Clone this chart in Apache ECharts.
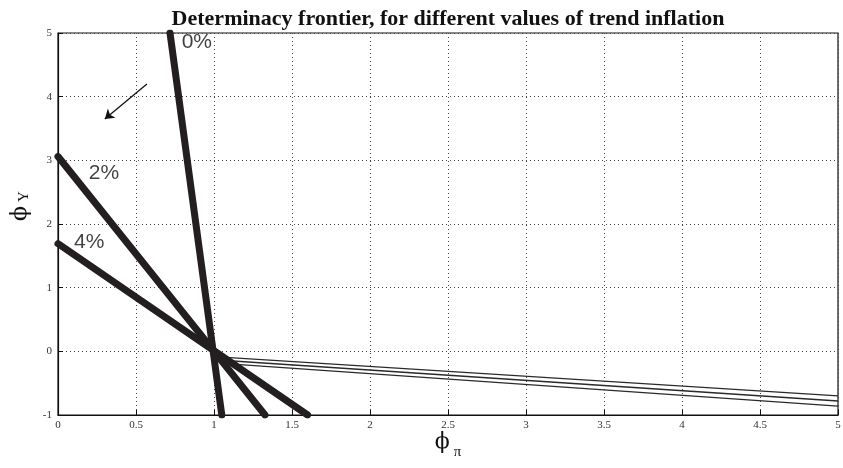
<!DOCTYPE html>
<html>
<head>
<meta charset="utf-8">
<script src="https://cdn.jsdelivr.net/npm/echarts@6/dist/echarts.min.js"></script>
<style>html,body{margin:0;padding:0;background:#fff}#c{width:843px;height:468px}</style>
</head>
<body>
<div id="c"></div>
<script>
// Thick determinacy frontiers (phi_pi, phi_Y)
const line0 = [[0.718, 5], [1.05, -1]];
const line2 = [[0, 3.06], [1.327, -1]];
const line4 = [[0, 1.69], [1.60, -1]];
// Thin lines
const thinA = [[1.05, -0.09], [5, -0.70]];
const thinB = [[1.05, -0.14], [5, -0.78]];
const thinC = [[1.05, -0.19], [5, -0.86]];
// Text annotations
const labels = [
  {name: '0%', value: [0.89, 4.86]},
  {name: '2%', value: [0.295, 2.80]},
  {name: '4%', value: [0.20, 1.72]}
];
// Arrow
const arrow = [[0.57, 4.2], [0.30, 3.65]];

const chart = echarts.init(document.getElementById('c'));
const serif = 'Liberation Serif';
const thick = {color: '#231f20', width: 7, cap: 'round'};
const thin = {color: '#2a2a2a', width: 1.3};
function ln(data, style) {
  return {type: 'line', data: data, symbol: 'none', lineStyle: style, silent: true, z: 3, animation: false};
}
chart.setOption({
  animation: false,
  title: {
    text: 'Determinacy frontier, for different values of trend inflation',
    left: 443, top: 3, textAlign: 'center',
    textStyle: {fontFamily: serif, fontWeight: 'bold', fontSize: 22, color: '#111'}
  },
  grid: {left: 58, right: 5, top: 33, bottom: 53, show: true, borderColor: '#111', borderWidth: 1.2,
    containLabel: false, outerBoundsMode: 'none'},
  xAxis: {
    type: 'value', min: 0, max: 5, interval: 0.5,
    axisLine: {onZero: false, lineStyle: {color: '#111', width: 1.2}},
    axisTick: {inside: true, length: 5, lineStyle: {color: '#111'}},
    axisLabel: {fontFamily: serif, fontSize: 11, color: '#333', margin: 5},
    splitLine: {show: true, lineStyle: {type: [1, 3], color: '#444', width: 1}},
    name: '{a|ϕ}{b|π}', nameLocation: 'middle', nameGap: 10, nameMoveOverlap: false,
    nameTextStyle: {rich: {
      a: {fontFamily: 'DejaVu Serif', fontSize: 22, color: '#111'},
      b: {fontFamily: serif, fontSize: 15, color: '#111', padding: [20, 0, 0, 4]}
    }}
  },
  yAxis: {
    type: 'value', min: -1, max: 5, interval: 1,
    axisLine: {onZero: false, lineStyle: {color: '#111', width: 1.2}},
    axisTick: {inside: true, length: 5, lineStyle: {color: '#111'}},
    axisLabel: {fontFamily: serif, fontSize: 11, color: '#333', margin: 6},
    splitLine: {show: true, lineStyle: {type: [1, 3], color: '#444', width: 1}},
    name: '{a|ϕ}{b|Y}', nameLocation: 'middle', nameGap: 24, nameRotate: 90,
    nameTextStyle: {padding: [0, 0, 0, 36], rich: {
      a: {fontFamily: 'DejaVu Serif', fontSize: 22, color: '#111'},
      b: {fontFamily: serif, fontSize: 15, color: '#111', padding: [8, 0, 0, 4]}
    }}
  },
  series: [
    ln(thinA, thin), ln(thinB, thin), ln(thinC, thin),
    ln(line0, thick), ln(line2, thick), ln(line4, thick),
    {
      type: 'scatter', data: labels, symbolSize: 0, silent: true, z: 5,
      label: {show: true, position: 'inside', formatter: '{b}',
        fontFamily: 'Liberation Sans', fontSize: 21, color: '#111'}
    },
    {
      type: 'lines', coordinateSystem: 'cartesian2d', silent: true, z: 5,
      symbol: ['none', 'arrow'], symbolSize: 9,
      lineStyle: {color: '#111', width: 1.3, opacity: 1, curveness: 0},
      data: [{coords: arrow}]
    }
  ]
});
</script>
</body>
</html>
